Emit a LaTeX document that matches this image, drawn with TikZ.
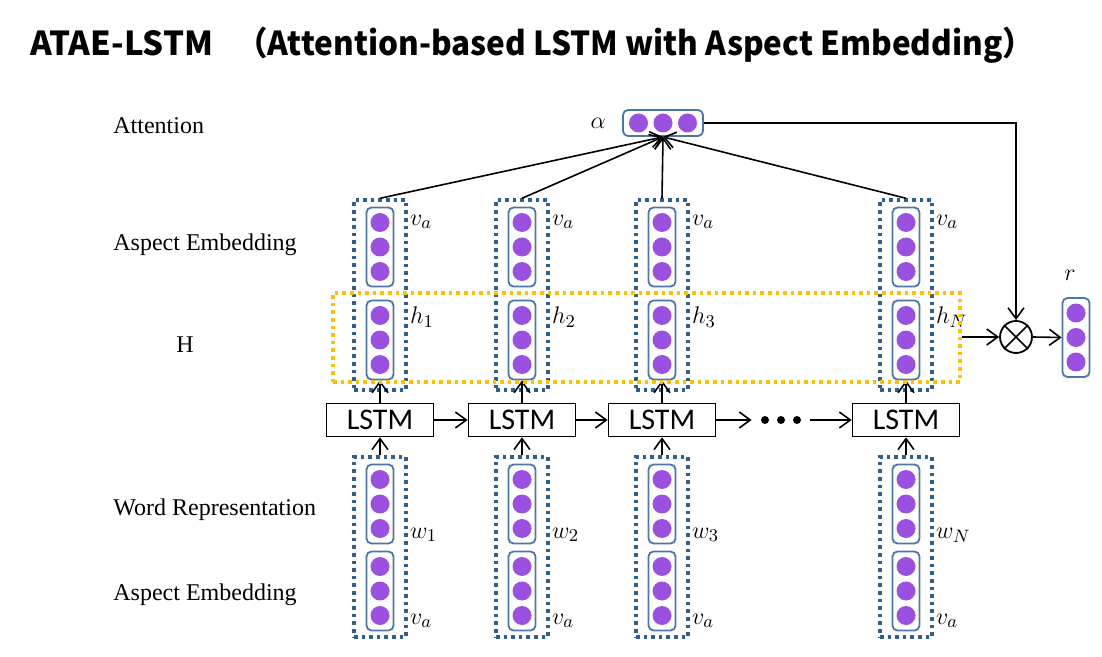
\documentclass[tikz,border=0pt]{standalone}
\usepackage{fontspec}
\setmainfont{Liberation Serif}
\newfontfamily\titlefont{Noto Sans CJK SC}
\newfontfamily\lstmfont{Carlito}
\usetikzlibrary{arrows.meta,positioning}

\definecolor{unitpurple}{HTML}{9B51E0}
\definecolor{vecblue}{HTML}{4A76A8}
\definecolor{grpblue}{HTML}{2F5F8F}
\definecolor{hyellow}{HTML}{FFC000}

\begin{document}
\begin{tikzpicture}[x=0.5pt,y=-0.5pt]

	\useasboundingbox (0,0) rectangle (1102,657);

	\tikzset{
		vec/.style={draw=vecblue, line width=0.9pt, rounded corners=2.5pt,
				minimum width=13.5pt, minimum height=39.5pt, inner sep=0pt},
		hvec/.style={vec, minimum width=40pt, minimum height=13pt},
		unit/.style={circle, fill=unitpurple, minimum size=9.5pt, inner sep=0pt},
		grp/.style={draw=grpblue, line width=1.7pt, dash pattern=on 1.8pt off 2pt,
				minimum width=26pt, inner sep=0pt},
		hgrp/.style={draw=hyellow, line width=1.7pt, dash pattern=on 1.8pt off 2pt,
				minimum width=313.5pt, minimum height=44.5pt, inner sep=0pt},
		lstm/.style={draw, line width=0.8pt, minimum width=53.5pt, minimum height=16.5pt,
				inner sep=0pt, font=\lstmfont\fontsize{15}{15}\selectfont},
		arr/.style={-{Straight Barb[length=5.5pt,width=8pt]}, line width=0.8pt},
		lbl/.style={anchor=west, inner sep=0pt, font=\fontsize{12}{14}\selectfont},
		sym/.style={anchor=west, inner sep=1pt, font=\fontsize{12.5}{14}\selectfont}
	}

	% titre
	\node[anchor=west, inner sep=0pt, font=\titlefont\bfseries\fontsize{16.5}{18}\selectfont]
		(title) at (30,45) {ATAE-LSTM\hspace{0.7em}\scalebox{0.955}[1]{（Attention-based LSTM with Aspect Embedding）}};

	% libelles a gauche
	\node[lbl] (lAtt)  at (113,126) {Attention};
	\node[lbl] (lAsp)  at (113,245) {Aspect Embedding};
	\node[lbl] (lH)    at (176,345) {H};
	\node[lbl] (lWord) at (113,510) {Word Representation};
	\node[lbl] (lAsp2) at (113,595) {Aspect Embedding};

	% vecteur d'attention
	\node[hvec] (alpha) at (663,123) {};
	\foreach \k in {-1,0,1}{
			\node[unit] at ([xshift=\k*12.25pt]alpha.center) {};
		}
	\node[sym, anchor=east] at ([xshift=-7pt]alpha.west) {$\alpha$};

	% colonnes
	\foreach \x/\i/\s in {380/1/1,522/2/2,662/3/3,906/4/N}{
			\node[grp, minimum height=95pt] (top\i) at (\x,295) {};
			\node[vec] (va\i) at (\x,247) {};
			\node[vec] (h\i)  at (\x,340) {};
			\node[grp, minimum height=90pt] (bot\i) at (\x,547) {};
			\node[vec] (w\i)  at (\x,504) {};
			\node[vec] (vb\i) at (\x,591) {};
			\foreach \n in {va\i,h\i,w\i,vb\i}{
					\foreach \k in {-1,0,1}{
							\node[unit] at ([yshift=\k*12.25pt]\n.center) {};
						}
				}
			\node[sym] at (top\i.east |- 0,222) {$v_a$};
			\node[sym] at (top\i.east |- 0,317) {$h_{\s}$};
			\node[sym] at (bot\i.east |- 0,535) {$w_{\s}$};
			\node[sym] at (bot\i.east |- 0,621) {$v_a$};

			\node[lstm] (L\i) at (\x,420) {LSTM};

			\draw[arr] (top\i.north) -- (alpha.south);
			\draw[arr] (L\i.north) -- (h\i.south);
			\draw[arr] (bot\i.north) -- (L\i.south);
		}

	% couche H
	\node[hgrp] (H) at (646.5,337.5) {};

	% chaine LSTM
	\node[minimum width=29pt, minimum height=8pt, inner sep=0pt] (dots) at (781,420) {};
	\foreach \dx in {-16,0,16}{
			\fill ([xshift=\dx*0.5pt]dots.center) circle (2pt);
		}
	\draw[arr] (L1) -- (L2);
	\draw[arr] (L2) -- (L3);
	\draw[arr] (L3) -- (dots);
	\draw[arr] (dots) -- (L4);

	% produit et sortie
	\node[circle, draw, line width=0.9pt, minimum size=16pt, inner sep=0pt] (ot) at (1016,337) {};
	\draw[line width=0.8pt] (ot.north west) -- (ot.south east);
	\draw[line width=0.8pt] (ot.north east) -- (ot.south west);

	\node[vec] (r) at (1076,337.5) {};
	\foreach \k in {-1,0,1}{
			\node[unit] at ([yshift=\k*12.25pt]r.center) {};
		}
	\node[sym, anchor=south, inner sep=0pt] at ([xshift=-3pt,yshift=8pt]r.north) {$r$};

	\draw[arr] (alpha.east) -| (ot.north);
	\draw[arr] (H.east |- ot.west) -- (ot.west);
	\draw[arr] (ot.east) -- (r.west);

\end{tikzpicture}
\end{document}
